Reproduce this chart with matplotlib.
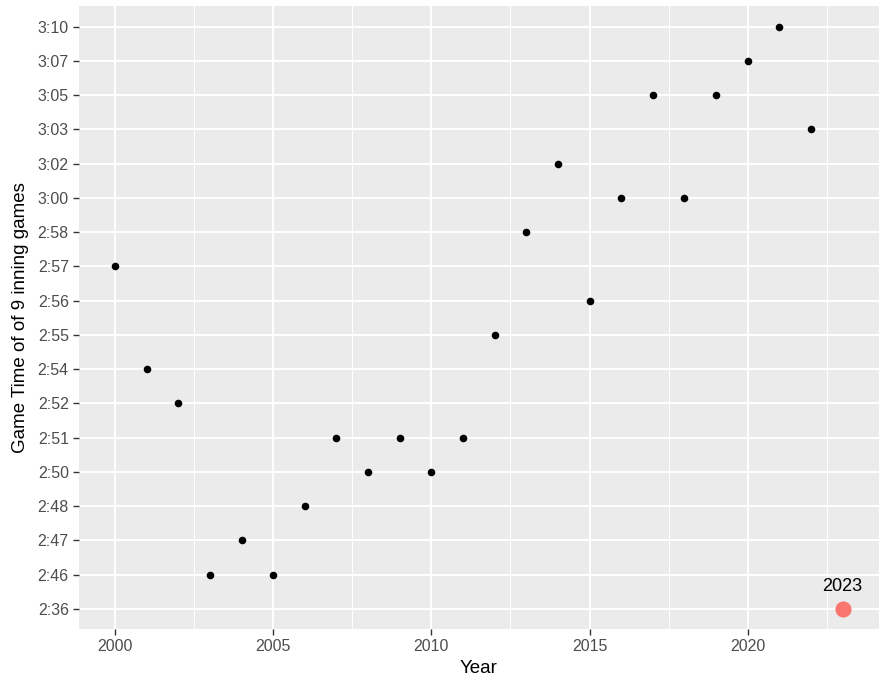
import matplotlib.pyplot as plt
from matplotlib.ticker import MultipleLocator

plt.rcParams['font.family'] = ['Liberation Sans', 'DejaVu Sans']

# data
years = list(range(2000, 2023))
times = ['2:57', '2:54', '2:52', '2:46', '2:47', '2:46', '2:48', '2:51', '2:50', '2:51',
         '2:50', '2:51', '2:55', '2:58', '3:02', '2:56', '3:00', '3:05', '3:00', '3:05',
         '3:07', '3:10', '3:03']
hl_year = 2023
hl_time = '2:36'

# discrete y axis, sorted like ggplot factor levels
levels = sorted(set(times + [hl_time]))
ypos = [levels.index(t) for t in times]
hl_pos = levels.index(hl_time)

fig = plt.figure(figsize=(8.83, 6.82), dpi=100)
ax = fig.add_axes([0.089, 0.077, 0.9065, 0.914])
ax.set_facecolor('#EBEBEB')

ax.scatter(years, ypos, s=30, color='black', zorder=3, linewidths=0)
ax.scatter([hl_year], [hl_pos], s=135, color='#F8766D', zorder=3, linewidths=0)
ax.annotate(str(hl_year), (hl_year, hl_pos), xytext=(0, 10), textcoords='offset points',
            ha='center', va='bottom', fontsize=13, color='black')

xmin, xmax = 2000, 2023
pad = (xmax - xmin) * 0.05
ax.set_xlim(xmin - pad, xmax + pad)
ax.set_ylim(-0.6, len(levels) - 1 + 0.6)

ax.xaxis.set_major_locator(MultipleLocator(5))
ax.xaxis.set_minor_locator(MultipleLocator(2.5))
ax.set_yticks(range(len(levels)))
ax.set_yticklabels(levels)

ax.grid(which='major', color='white', linewidth=1.4)
ax.grid(which='minor', axis='x', color='white', linewidth=0.7)
ax.set_axisbelow(True)
for s in ax.spines.values():
    s.set_visible(False)

ax.tick_params(which='major', length=4, width=1, color='#333333', labelcolor='#4D4D4D',
               labelsize=11.5, pad=3)
ax.tick_params(which='minor', length=0)

ax.set_xlabel('Year', fontsize=13.5, labelpad=4)
ax.set_ylabel('Game Time of of 9 inning games', fontsize=13.5, labelpad=6)

fig.savefig('out.png', dpi=100)
